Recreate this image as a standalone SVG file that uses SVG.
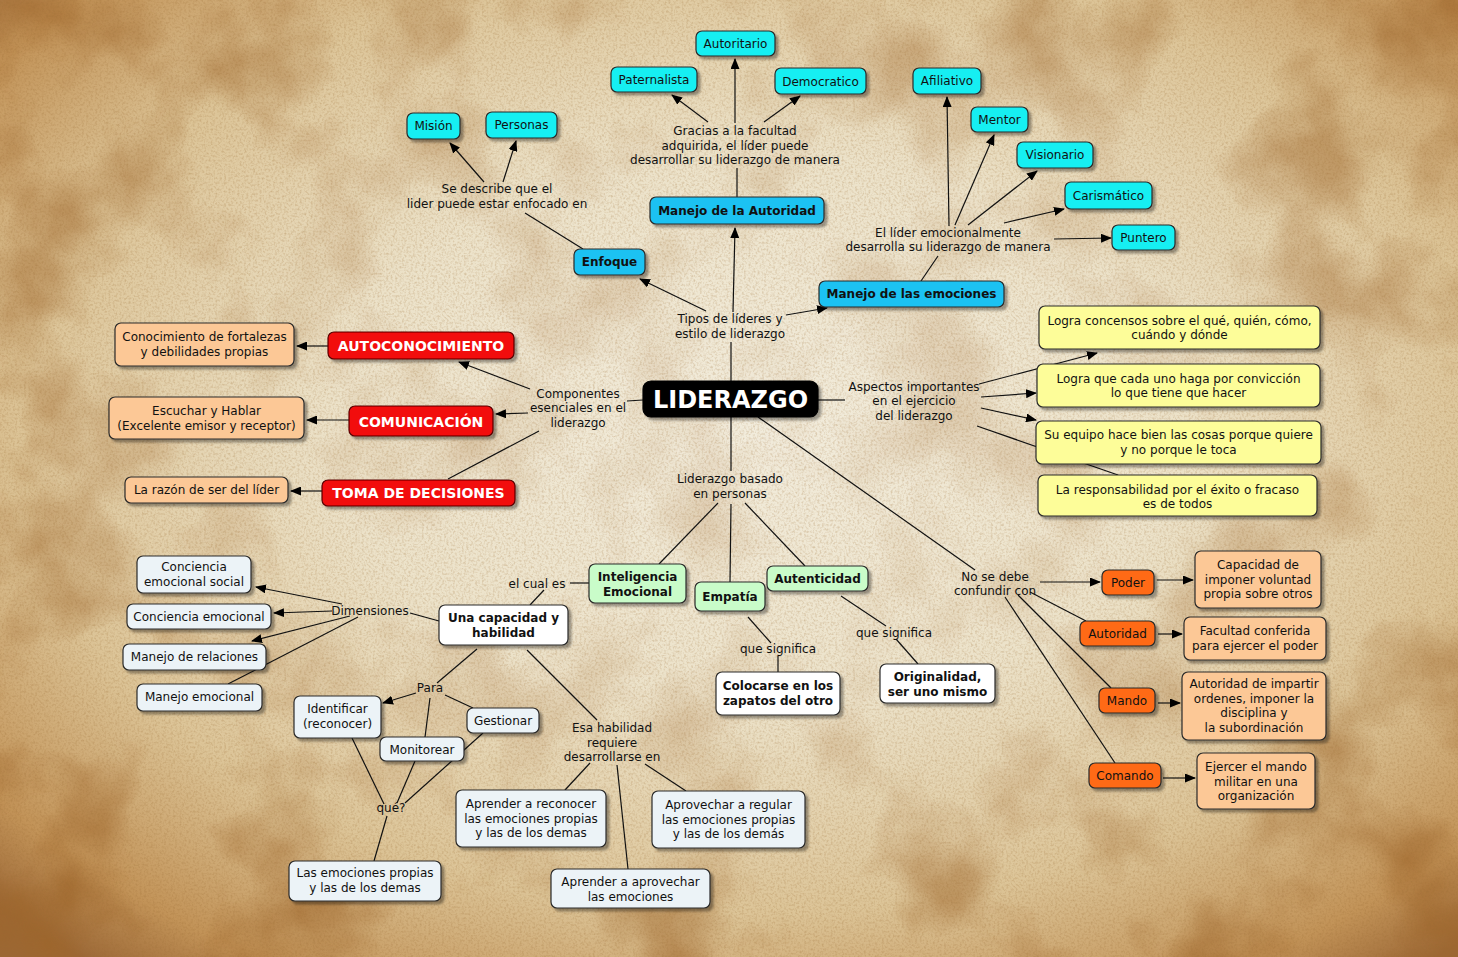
<svg xmlns="http://www.w3.org/2000/svg" width="1458" height="957" viewBox="0 0 1458 957">
<defs>
<radialGradient id="bg" cx="52%" cy="45%" r="72%">
<stop offset="0" stop-color="#f2ecdc"/>
<stop offset="0.4" stop-color="#ece2c9"/>
<stop offset="0.7" stop-color="#dcc497"/>
<stop offset="0.9" stop-color="#c29358"/>
<stop offset="1" stop-color="#9c6836"/>
</radialGradient>
<radialGradient id="mg" cx="52%" cy="45%" r="72%">
<stop offset="0" stop-color="#333"/>
<stop offset="0.5" stop-color="#666"/>
<stop offset="0.85" stop-color="#ddd"/>
<stop offset="1" stop-color="#fff"/>
</radialGradient>
<mask id="edge" maskUnits="userSpaceOnUse" x="0" y="0" width="1458" height="957">
<rect x="0" y="0" width="1458" height="957" fill="url(#mg)"/>
</mask>
<filter id="stain" x="0" y="0" width="100%" height="100%" color-interpolation-filters="sRGB">
<feTurbulence type="fractalNoise" baseFrequency="0.008" numOctaves="4" seed="7"/>
<feColorMatrix values="0 0 0 0 0.62  0 0 0 0 0.4  0 0 0 0 0.17  3 0 0 0 -1.4"/>
</filter>
<filter id="grain" x="0" y="0" width="100%" height="100%" color-interpolation-filters="sRGB">
<feTurbulence type="fractalNoise" baseFrequency="0.45" numOctaves="2" seed="3"/>
<feColorMatrix values="0 0 0 0 0.6  0 0 0 0 0.42  0 0 0 0 0.2  2 0 0 0 -0.85"/>
</filter>
<filter id="sh" x="-20%" y="-20%" width="140%" height="160%">
<feDropShadow dx="3" dy="3" stdDeviation="1.2" flood-color="#000" flood-opacity="0.35"/>
</filter>
<marker id="ar" markerWidth="11" markerHeight="9" refX="10" refY="4.5" orient="auto" markerUnits="userSpaceOnUse">
<path d="M0,0 L11,4.5 L0,9 z" fill="#000"/>
</marker>
<style>
text{font-family:"DejaVu Sans","Verdana","Liberation Sans",sans-serif;font-size:12px;fill:#111;text-anchor:middle}
.b{font-weight:bold}
.big{font-size:24px;font-weight:bold;fill:#fff}
.cap{font-size:14px;font-weight:bold;fill:#fff}
g > rect{stroke:#2a2a2a;stroke-width:1.2;filter:url(#sh)}
.cy{fill:#14eff2}
.db{fill:#1ac2f2}
.rd{fill:#f20c0c;stroke:#5a0000}
.pe{fill:#fcc896}
.ye{fill:#fdfd99}
.gr{fill:#c9fcc9}
.wh{fill:#ffffff}
.lb{fill:#ecf3f7}
.or{fill:#ff6a12}
.bk{fill:#000;stroke:#000}
#connectors line{stroke:#111;stroke-width:1.2}
.a{marker-end:url(#ar)}
</style>
</defs>
<rect x="0" y="0" width="1458" height="957" fill="url(#bg)"/>
<rect x="0" y="0" width="1458" height="957" fill="#000" filter="url(#stain)" mask="url(#edge)" opacity="0.75"/>
<rect x="0" y="0" width="1458" height="957" fill="#000" filter="url(#grain)" opacity="0.3"/>

<g id="connectors">
<line x1="731" y1="381" x2="731" y2="342"/>
<line class="a" x1="733" y1="312" x2="735" y2="228"/>
<line class="a" x1="706" y1="311" x2="640" y2="279"/>
<line class="a" x1="786" y1="315" x2="827" y2="308"/>
<line x1="737" y1="197" x2="737" y2="168"/>
<line class="a" x1="735" y1="123" x2="735" y2="59"/>
<line class="a" x1="708" y1="122" x2="672" y2="95"/>
<line class="a" x1="764" y1="122" x2="800" y2="96"/>
<line x1="583" y1="249" x2="525" y2="213"/>
<line class="a" x1="484" y1="182" x2="450" y2="143"/>
<line class="a" x1="503" y1="182" x2="516" y2="141"/>
<line x1="921" y1="281" x2="938" y2="256"/>
<line class="a" x1="949" y1="226" x2="947" y2="97"/>
<line class="a" x1="955" y1="225" x2="994" y2="135"/>
<line class="a" x1="968" y1="225" x2="1037" y2="171"/>
<line class="a" x1="1004" y1="223" x2="1064" y2="209"/>
<line class="a" x1="1054" y1="239" x2="1111" y2="238"/>
<line x1="643" y1="400" x2="627" y2="401"/>
<line class="a" x1="530" y1="389" x2="459" y2="362"/>
<line class="a" x1="528" y1="413" x2="496" y2="414"/>
<line x1="539" y1="431" x2="448" y2="479"/>
<line class="a" x1="328" y1="346" x2="297" y2="346"/>
<line class="a" x1="349" y1="420" x2="307" y2="420"/>
<line class="a" x1="322" y1="491" x2="291" y2="491"/>
<line x1="818" y1="400" x2="845" y2="400"/>
<line class="a" x1="979" y1="384" x2="1097" y2="353"/>
<line class="a" x1="981" y1="397" x2="1036" y2="393"/>
<line class="a" x1="981" y1="408" x2="1036" y2="420"/>
<line x1="977" y1="426" x2="1118" y2="475"/>
<line x1="731" y1="417" x2="731" y2="471"/>
<line x1="718" y1="503" x2="659" y2="564"/>
<line x1="731" y1="504" x2="730" y2="582"/>
<line x1="745" y1="503" x2="805" y2="566"/>
<line x1="589" y1="583" x2="570" y2="583"/>
<line x1="544" y1="590" x2="530" y2="605"/>
<line x1="748" y1="617" x2="771" y2="643"/>
<line x1="778" y1="656" x2="778" y2="672"/>
<line x1="841" y1="596" x2="886" y2="626"/>
<line x1="896" y1="639" x2="918" y2="664"/>
<line x1="758" y1="417" x2="975" y2="570"/>
<line class="a" x1="1040" y1="582" x2="1100" y2="582"/>
<line x1="1030" y1="592" x2="1086" y2="621"/>
<line x1="1018" y1="595" x2="1111" y2="688"/>
<line x1="1005" y1="597" x2="1115" y2="763"/>
<line class="a" x1="1157" y1="580" x2="1193" y2="580"/>
<line class="a" x1="1158" y1="634" x2="1182" y2="634"/>
<line class="a" x1="1158" y1="703" x2="1180" y2="703"/>
<line class="a" x1="1163" y1="778" x2="1195" y2="778"/>
<line x1="439" y1="621" x2="410" y2="613"/>
<line class="a" x1="342" y1="604" x2="256" y2="587"/>
<line class="a" x1="332" y1="611" x2="274" y2="613"/>
<line class="a" x1="350" y1="616" x2="252" y2="641"/>
<line x1="358" y1="617" x2="228" y2="684"/>
<line x1="477" y1="649" x2="437" y2="683"/>
<line class="a" x1="416" y1="693" x2="383" y2="703"/>
<line x1="445" y1="695" x2="473" y2="708"/>
<line x1="430" y1="698" x2="425" y2="737"/>
<line x1="352" y1="738" x2="384" y2="804"/>
<line x1="415" y1="761" x2="397" y2="803"/>
<line x1="483" y1="733" x2="405" y2="803"/>
<line x1="387" y1="816" x2="374" y2="861"/>
<line x1="527" y1="650" x2="597" y2="720"/>
<line x1="590" y1="763" x2="565" y2="790"/>
<line x1="617" y1="765" x2="628" y2="869"/>
<line x1="645" y1="764" x2="686" y2="791"/>
</g>

<g id="labels">
<text x="735" y="135">Gracias a la facultad</text>
<text x="735" y="150">adquirida, el líder puede</text>
<text x="735" y="164">desarrollar su liderazgo de manera</text>
<text x="497" y="193">Se describe que el</text>
<text x="497" y="208">lider puede estar enfocado en</text>
<text x="948" y="237">El líder emocionalmente</text>
<text x="948" y="251">desarrolla su liderazgo de manera</text>
<text x="730" y="323">Tipos de líderes y</text>
<text x="730" y="338">estilo de liderazgo</text>
<text x="578" y="398">Componentes</text>
<text x="578" y="412">esenciales en el</text>
<text x="578" y="427">liderazgo</text>
<text x="914" y="391">Aspectos importantes</text>
<text x="914" y="405">en el ejercicio</text>
<text x="914" y="420">del liderazgo</text>
<text x="730" y="483">Liderazgo basado</text>
<text x="730" y="498">en personas</text>
<text x="537" y="588">el cual es</text>
<text x="370" y="615">Dimensiones</text>
<text x="778" y="653">que significa</text>
<text x="894" y="637">que significa</text>
<text x="995" y="581">No se debe</text>
<text x="995" y="595">confundir con</text>
<text x="430" y="692">Para</text>
<text x="612" y="732">Esa habilidad</text>
<text x="612" y="747">requiere</text>
<text x="612" y="761">desarrollarse en</text>
<text x="391" y="812">qué?</text>
</g>

<g id="n-autoritario"><rect class="cy" x="696" y="31" width="79" height="25" rx="6"/><text x="735.5" y="48">Autoritario</text></g>
<g id="n-paternalista"><rect class="cy" x="611" y="67" width="86" height="25" rx="6"/><text x="654" y="84">Paternalista</text></g>
<g id="n-democratico"><rect class="cy" x="775" y="68" width="91" height="26" rx="6"/><text x="820.5" y="85.5">Democratico</text></g>
<g id="n-mision"><rect class="cy" x="407" y="113" width="53" height="26" rx="6"/><text x="433.5" y="130">Misión</text></g>
<g id="n-personas"><rect class="cy" x="486" y="112" width="71" height="26" rx="6"/><text x="521.5" y="129">Personas</text></g>
<g id="n-afiliativo"><rect class="cy" x="913" y="68" width="68" height="26" rx="6"/><text x="947" y="85">Afiliativo</text></g>
<g id="n-mentor"><rect class="cy" x="971" y="107" width="57" height="25" rx="6"/><text x="999.5" y="124">Mentor</text></g>
<g id="n-visionario"><rect class="cy" x="1017" y="142" width="76" height="26" rx="6"/><text x="1055" y="159">Visionario</text></g>
<g id="n-carismatico"><rect class="cy" x="1065" y="182" width="87" height="27" rx="6"/><text x="1108.5" y="200">Carismático</text></g>
<g id="n-puntero"><rect class="cy" x="1112" y="225" width="63" height="25" rx="6"/><text x="1143.5" y="242">Puntero</text></g>
<g id="n-manejo-autoridad"><rect class="db" x="650" y="197" width="174" height="27" rx="6"/><text class="b" x="737" y="215">Manejo de la Autoridad</text></g>
<g id="n-enfoque"><rect class="db" x="574" y="249" width="71" height="26" rx="6"/><text class="b" x="609.5" y="266">Enfoque</text></g>
<g id="n-manejo-emociones"><rect class="db" x="819" y="281" width="185" height="26" rx="6"/><text class="b" x="911.5" y="298">Manejo de las emociones</text></g>
<g id="n-liderazgo"><rect class="bk" x="643" y="381" width="175" height="36" rx="8"/><text class="big" x="730.5" y="408">LIDERAZGO</text></g>
<g id="n-autoconocimiento"><rect class="rd" x="328" y="332" width="186" height="27" rx="6"/><text class="cap" x="421" y="351">AUTOCONOCIMIENTO</text></g>
<g id="n-comunicacion"><rect class="rd" x="349" y="406" width="144" height="30" rx="6"/><text class="cap" x="421" y="426.5">COMUNICACIÓN</text></g>
<g id="n-toma"><rect class="rd" x="322" y="480" width="193" height="26" rx="6"/><text class="cap" x="418.5" y="498">TOMA DE DECISIONES</text></g>
<g id="n-conocimiento"><rect class="pe" x="115" y="323" width="179" height="43" rx="6"/><text x="204.5" y="341">Conocimiento de fortalezas</text><text x="204.5" y="356">y debilidades propias</text></g>
<g id="n-escuchar"><rect class="pe" x="109" y="397" width="195" height="42" rx="6"/><text x="206.5" y="415">Escuchar y Hablar</text><text x="206.5" y="430">(Excelente emisor y receptor)</text></g>
<g id="n-razon"><rect class="pe" x="125" y="477" width="163" height="26" rx="6"/><text x="206.5" y="494">La razón de ser del líder</text></g>
<g id="n-concensos"><rect class="ye" x="1039" y="306" width="281" height="43" rx="6"/><text x="1179.5" y="325">Logra concensos sobre el qué, quién, cómo,</text><text x="1179.5" y="339">cuándo y dónde</text></g>
<g id="n-conviccion"><rect class="ye" x="1037" y="364" width="283" height="43" rx="6"/><text x="1178.5" y="383">Logra que cada uno haga por convicción</text><text x="1178.5" y="397">lo que tiene que hacer</text></g>
<g id="n-equipo"><rect class="ye" x="1036" y="421" width="285" height="43" rx="6"/><text x="1178.5" y="439">Su equipo hace bien las cosas porque quiere</text><text x="1178.5" y="454">y no porque le toca</text></g>
<g id="n-responsabilidad"><rect class="ye" x="1038" y="475" width="279" height="41" rx="6"/><text x="1177.5" y="494">La responsabilidad por el éxito o fracaso</text><text x="1177.5" y="508">es de todos</text></g>
<g id="n-inteligencia"><rect class="gr" x="589" y="564" width="97" height="39" rx="6"/><text class="b" x="637.5" y="581">Inteligencia</text><text class="b" x="637.5" y="596">Emocional</text></g>
<g id="n-empatia"><rect class="gr" x="695" y="582" width="70" height="29" rx="6"/><text class="b" x="730" y="601">Empatía</text></g>
<g id="n-autenticidad"><rect class="gr" x="767" y="566" width="101" height="25" rx="6"/><text class="b" x="817.5" y="583">Autenticidad</text></g>
<g id="n-colocarse"><rect class="wh" x="716" y="672" width="124" height="43" rx="6"/><text class="b" x="778" y="690">Colocarse en los</text><text class="b" x="778" y="705">zapatos del otro</text></g>
<g id="n-originalidad"><rect class="wh" x="880" y="664" width="115" height="39" rx="6"/><text class="b" x="937.5" y="681">Originalidad,</text><text class="b" x="937.5" y="696">ser uno mismo</text></g>
<g id="n-capacidad"><rect class="wh" x="439" y="605" width="129" height="40" rx="6"/><text class="b" x="503.5" y="622">Una capacidad y</text><text class="b" x="503.5" y="637">habilidad</text></g>
<g id="n-conc-social"><rect class="lb" x="137" y="556" width="114" height="37" rx="6"/><text x="194" y="571">Conciencia</text><text x="194" y="586">emocional social</text></g>
<g id="n-conc-emocional"><rect class="lb" x="127" y="604" width="144" height="25" rx="6"/><text x="199" y="621">Conciencia emocional</text></g>
<g id="n-manejo-relaciones"><rect class="lb" x="123" y="644" width="143" height="26" rx="6"/><text x="194.5" y="661">Manejo de relaciones</text></g>
<g id="n-manejo-emocional"><rect class="lb" x="137" y="684" width="125" height="27" rx="6"/><text x="199.5" y="701">Manejo emocional</text></g>
<g id="n-identificar"><rect class="lb" x="294" y="696" width="87" height="42" rx="6"/><text x="337.5" y="713">Identificar</text><text x="337.5" y="728">(reconocer)</text></g>
<g id="n-gestionar"><rect class="lb" x="467" y="708" width="72" height="25" rx="6"/><text x="503" y="725">Gestionar</text></g>
<g id="n-monitorear"><rect class="lb" x="380" y="737" width="84" height="24" rx="6"/><text x="422" y="754">Monitorear</text></g>
<g id="n-emociones-propias"><rect class="lb" x="289" y="861" width="152" height="40" rx="6"/><text x="365" y="877">Las emociones propias</text><text x="365" y="892">y las de los demas</text></g>
<g id="n-aprender-reconocer"><rect class="lb" x="456" y="790" width="150" height="57" rx="6"/><text x="531" y="808">Aprender a reconocer</text><text x="531" y="823">las emociones propias</text><text x="531" y="837">y las de los demas</text></g>
<g id="n-aprovechar-regular"><rect class="lb" x="652" y="791" width="153" height="57" rx="6"/><text x="728.5" y="809">Aprovechar a regular</text><text x="728.5" y="824">las emociones propias</text><text x="728.5" y="838">y las de los demás</text></g>
<g id="n-aprender-aprovechar"><rect class="lb" x="551" y="869" width="159" height="39" rx="6"/><text x="630.5" y="886">Aprender a aprovechar</text><text x="630.5" y="901">las emociones</text></g>
<g id="n-poder"><rect class="or" x="1102" y="570" width="52" height="25" rx="6"/><text x="1128" y="587">Poder</text></g>
<g id="n-autoridad"><rect class="or" x="1080" y="621" width="75" height="25" rx="6"/><text x="1117.5" y="638">Autoridad</text></g>
<g id="n-mando"><rect class="or" x="1099" y="688" width="56" height="25" rx="6"/><text x="1127" y="705">Mando</text></g>
<g id="n-comando"><rect class="or" x="1089" y="763" width="72" height="25" rx="6"/><text x="1125" y="780">Comando</text></g>
<g id="n-capacidad-imponer"><rect class="pe" x="1195" y="551" width="126" height="57" rx="6"/><text x="1258" y="569">Capacidad de</text><text x="1258" y="584">imponer voluntad</text><text x="1258" y="598">propia sobre otros</text></g>
<g id="n-facultad"><rect class="pe" x="1184" y="617" width="142" height="43" rx="6"/><text x="1255" y="635">Facultad conferida</text><text x="1255" y="650">para ejercer el poder</text></g>
<g id="n-impartir"><rect class="pe" x="1182" y="672" width="144" height="68" rx="6"/><text x="1254" y="688">Autoridad de impartir</text><text x="1254" y="703">ordenes, imponer la</text><text x="1254" y="717">disciplina y</text><text x="1254" y="732">la subordinación</text></g>
<g id="n-ejercer"><rect class="pe" x="1197" y="753" width="118" height="56" rx="6"/><text x="1256" y="771">Ejercer el mando</text><text x="1256" y="786">militar en una</text><text x="1256" y="800">organización</text></g>
</svg>
